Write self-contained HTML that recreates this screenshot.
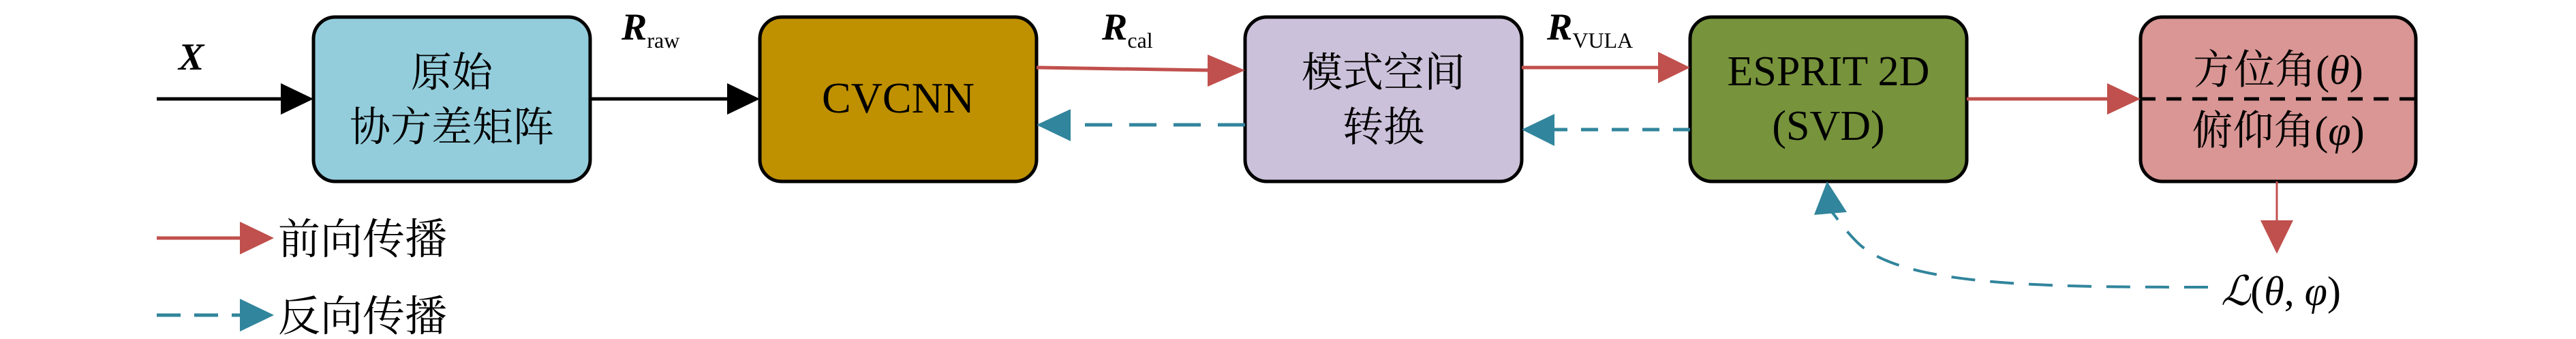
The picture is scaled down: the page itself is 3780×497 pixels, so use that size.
<!DOCTYPE html>
<html><head><meta charset="utf-8"><style>
body{margin:0;background:#fff;}
svg text{font-family:"Liberation Serif","Noto Serif CJK SC","Noto Sans CJK SC",serif;fill:#000;}
</style></head><body>
<svg width="3780" height="492" viewBox="0 0 3780 492" xmlns="http://www.w3.org/2000/svg">
<g stroke="#000" stroke-width="5">
<rect x="460" y="25" width="406" height="241" rx="32" fill="#93CDDC"/>
<rect x="1115" y="25" width="406" height="241" rx="32" fill="#BF9000"/>
<rect x="1827" y="25" width="406" height="241" rx="32" fill="#CCC1DA"/>
<rect x="2480" y="25" width="406" height="241" rx="32" fill="#77933C"/>
<rect x="3141" y="25" width="404" height="241" rx="32" fill="#D99694"/>
</g>
<line x1="3141" y1="145" x2="3545" y2="145" stroke="#000" stroke-width="5" stroke-dasharray="22,16"/>
<line x1="230" y1="145" x2="415" y2="145" stroke="#000" stroke-width="5"/>
<polygon points="412,122 460,145 412,168" fill="#000"/>
<line x1="866" y1="145" x2="1070" y2="145" stroke="#000" stroke-width="5"/>
<polygon points="1067,122 1115,145 1067,168" fill="#000"/>
<line x1="1521" y1="99" x2="1775" y2="103" stroke="#C0504D" stroke-width="5"/>
<polygon points="1772,80 1827,103 1772,127" fill="#C0504D"/>
<line x1="2233" y1="99" x2="2438" y2="99" stroke="#C0504D" stroke-width="5"/>
<polygon points="2433,76 2480,99 2433,122" fill="#C0504D"/>
<line x1="2886" y1="145" x2="3095" y2="145" stroke="#C0504D" stroke-width="5"/>
<polygon points="3092,122 3141,145 3092,168" fill="#C0504D"/>
<line x1="3341" y1="266" x2="3341" y2="330" stroke="#C0504D" stroke-width="3"/>
<polygon points="3317,323 3365,323 3341,372" fill="#C0504D"/>
<line x1="1827" y1="183" x2="1568" y2="183" stroke="#31859C" stroke-width="5" stroke-dasharray="40,25"/>
<polygon points="1571,160 1521,183 1571,207" fill="#31859C"/>
<line x1="2480" y1="190" x2="2278" y2="190" stroke="#31859C" stroke-width="5" stroke-dasharray="25,20"/>
<polygon points="2281,167 2233,190 2281,214" fill="#31859C"/>
<path d="M3240,421 C3000,421 2790,420 2725,355 C2700,330 2690,310 2686,310" fill="none" stroke="#31859C" stroke-width="4" stroke-dasharray="35,22"/>
<polygon points="2662,315 2710,311 2681,266" fill="#31859C"/>
<line x1="230" y1="349" x2="360" y2="349" stroke="#C0504D" stroke-width="5"/>
<polygon points="352,325 402,349 352,373" fill="#C0504D"/>
<line x1="230" y1="462" x2="355" y2="462" stroke="#31859C" stroke-width="5" stroke-dasharray="35,20"/>
<polygon points="352,438 402,462 352,486" fill="#31859C"/>
<text x="408" y="372" font-size="62">前向传播</text>
<text x="408" y="485" font-size="62">反向传播</text>
<text x="262" y="102" font-size="56" font-style="italic" font-weight="bold">X</text>
<text x="912" y="58" font-size="56" font-style="italic" font-weight="bold">R<tspan font-size="32" font-style="normal" font-weight="normal" dy="12">raw</tspan></text>
<text x="1617" y="58" font-size="56" font-style="italic" font-weight="bold">R<tspan font-size="32" font-style="normal" font-weight="normal" dy="12">cal</tspan></text>
<text x="2270" y="58" font-size="56" font-style="italic" font-weight="bold">R<tspan font-size="32" font-style="normal" font-weight="normal" dy="12">VULA</tspan></text>
<g text-anchor="middle" font-size="60">
<text x="663" y="127">原始</text>
<text x="663" y="207">协方差矩阵</text>
<text x="1318" y="165" font-size="64">CVCNN</text>
<text x="2030" y="127">模式空间</text>
<text x="2030" y="207">转换</text>
<text x="2683" y="125" font-size="62">ESPRIT 2D</text>
<text x="2683" y="205" font-size="62">(SVD)</text>
<text x="3343" y="123">方位角(<tspan font-style="italic">θ</tspan>)</text>
<text x="3343" y="212">俯仰角(<tspan font-style="italic">φ</tspan>)</text>
<text x="3347" y="447"><tspan font-style="italic">ℒ</tspan>(<tspan font-style="italic">θ</tspan>, <tspan font-style="italic">φ</tspan>)</text>
</g>
</svg>
</body></html>
